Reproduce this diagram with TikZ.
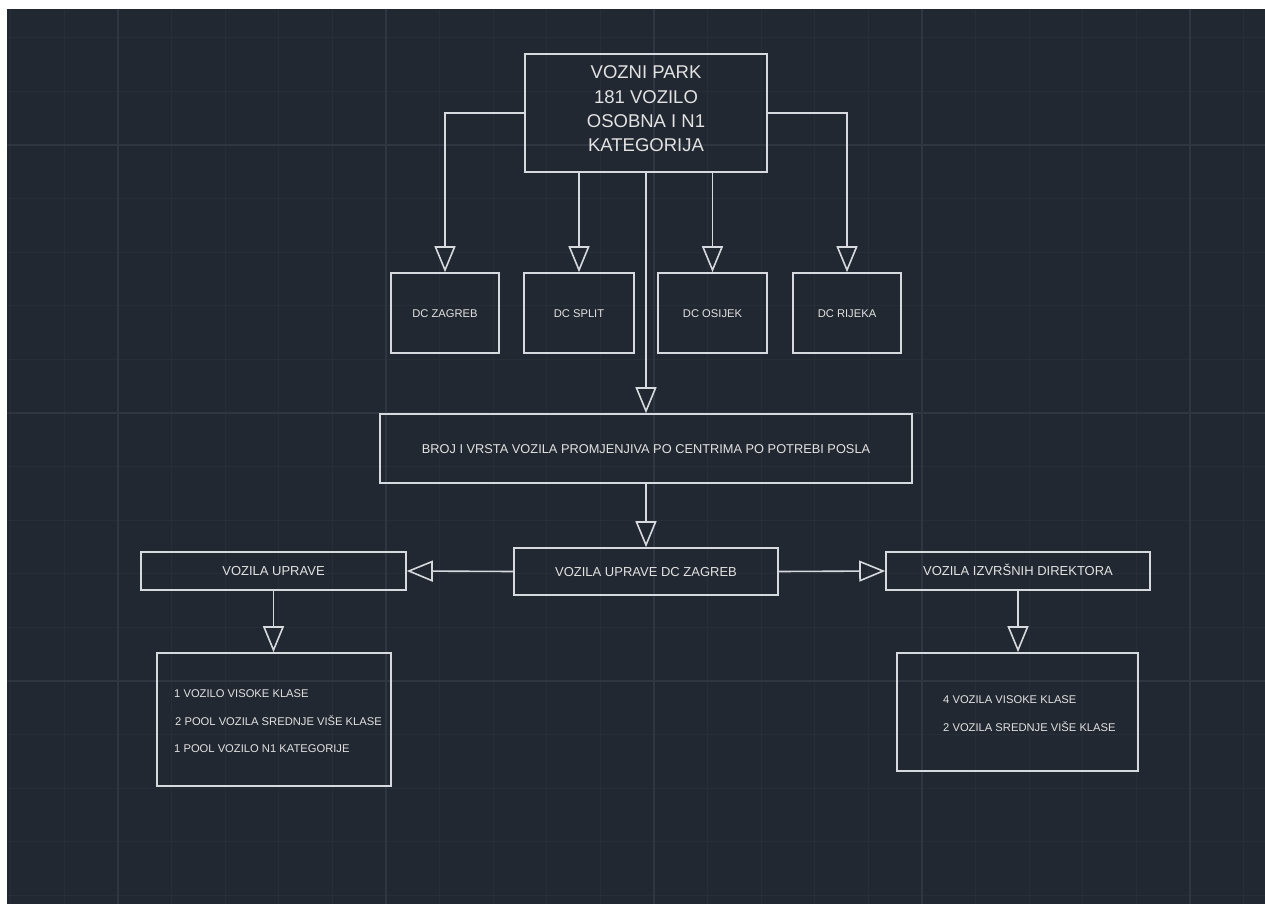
\documentclass[tikz,border=0pt]{standalone}
\usepackage{fontspec}
\setmainfont{Liberation Sans}
\usetikzlibrary{arrows.meta}
\definecolor{bg}{HTML}{222831}
\definecolor{gridminor}{HTML}{272E37}
\definecolor{gridmajor}{HTML}{2F3641}
\definecolor{ln}{HTML}{D6D9DE}
\definecolor{tx}{HTML}{E2E2E2}
\begin{document}
\begin{tikzpicture}[x=1pt,y=-1pt,
  box/.style={draw=ln, line width=1.6pt, rectangle, inner sep=0pt, text=tx,
    font=\fontsize{11.2}{13}\selectfont, text height=8pt, text depth=0pt},
  midbox/.style={box, font=\fontsize{13}{15}\selectfont, text height=9.3pt},
  smalltext/.style={text=tx, inner sep=0pt, anchor=west,
    font=\fontsize{11.2}{13}\selectfont, text height=8pt, text depth=0pt},
  arr/.style={draw=ln, line width=1.6pt, -{Triangle[open,length=26pt,width=21pt]}},
  conn/.style={draw=ln, line width=1.6pt}]
\useasboundingbox (0,0) rectangle (1265,904);
% background and grid
\fill[white] (0,0) rectangle (1265,904);
\fill[bg] (7,9) rectangle (1265,904);
\begin{scope}
  \clip (7,9) rectangle (1265,904);
  \foreach \i in {0,...,23} {\draw[gridminor, line width=1pt] ({10.8+53.6*\i},9) -- ({10.8+53.6*\i},904);}
  \foreach \j in {0,...,16} {\draw[gridminor, line width=1pt] (7,{37.8+53.6*\j}) -- (1265,{37.8+53.6*\j});}
  \foreach \i in {0,...,4} {\draw[gridmajor, line width=1.2pt] ({118+268*\i},9) -- ({118+268*\i},904);}
  \foreach \j in {0,...,2} {\draw[gridmajor, line width=1.2pt] (7,{145+268*\j}) -- (1265,{145+268*\j});}
\end{scope}
% top box
\node[box, minimum width=242pt, minimum height=118pt] (top) at (646,113) {};
\node[text=tx, inner sep=0pt, align=center, font=\fontsize{18.5}{24.3}\selectfont] (toptext) at (646,109)
  {VOZNI PARK\\181 VOZILO\\OSOBNA I N1\\KATEGORIJA};
% DC boxes
\node[box, minimum width=108pt, minimum height=80pt] (zag) at (445,313) {DC ZAGREB};
\node[box, minimum width=110pt, minimum height=80pt] (spl) at (579,313) {DC SPLIT};
\node[box, minimum width=109pt, minimum height=80pt] (osi) at (712.5,313) {DC OSIJEK};
\node[box, minimum width=108pt, minimum height=80pt] (rij) at (847,313) {DC RIJEKA};
% BROJ box
\node[box, minimum width=532pt, minimum height=69pt, font=\fontsize{12.8}{15}\selectfont, text height=9.2pt] (broj) at (646,448.5)
  {BROJ I VRSTA VOZILA PROMJENJIVA PO CENTRIMA PO POTREBI POSLA};
% middle row
\node[midbox, minimum width=265pt, minimum height=38pt] (upr) at (273.5,571) {VOZILA UPRAVE};
\node[midbox, minimum width=264pt, minimum height=47pt] (dcz) at (646,571.5) {VOZILA UPRAVE DC ZAGREB};
\node[midbox, minimum width=264pt, minimum height=38pt] (izv) at (1018,571) {VOZILA IZVRŠNIH DIREKTORA};
% lower boxes
\node[box, minimum width=234pt, minimum height=133pt] (lbox) at (274,719.5) {};
\node[smalltext] (l1) at (174,693) {1 VOZILO VISOKE KLASE};
\node[smalltext] (l2) at (175,721) {2 POOL VOZILA SREDNJE VIŠE KLASE};
\node[smalltext] (l3) at (174,748) {1 POOL VOZILO N1 KATEGORIJE};
\node[box, minimum width=241pt, minimum height=118pt] (rbox) at (1017.5,712) {};
\node[smalltext] (r1) at (943,699) {4 VOZILA VISOKE KLASE};
\node[smalltext] (r2) at (943,727) {2 VOZILA SREDNJE VIŠE KLASE};
% connectors
\draw[arr] (top.west) -| (zag.north);
\draw[arr] (top.east) -| (rij.north);
\draw[arr] (spl.north |- top.south) -- (spl.north);
\draw[arr] (osi.north |- top.south) -- (osi.north);
\draw[arr] (top.south) -- (broj.north);
\draw[arr] (broj.south) -- (dcz.north);
\draw[arr] (dcz.west) -- (upr.east);
\draw[arr] (dcz.east) -- (izv.west);
\draw[arr] (upr.south) -- (upr.south |- lbox.north);
\draw[arr] (izv.south) -- (izv.south |- rbox.north);
\end{tikzpicture}
\end{document}
